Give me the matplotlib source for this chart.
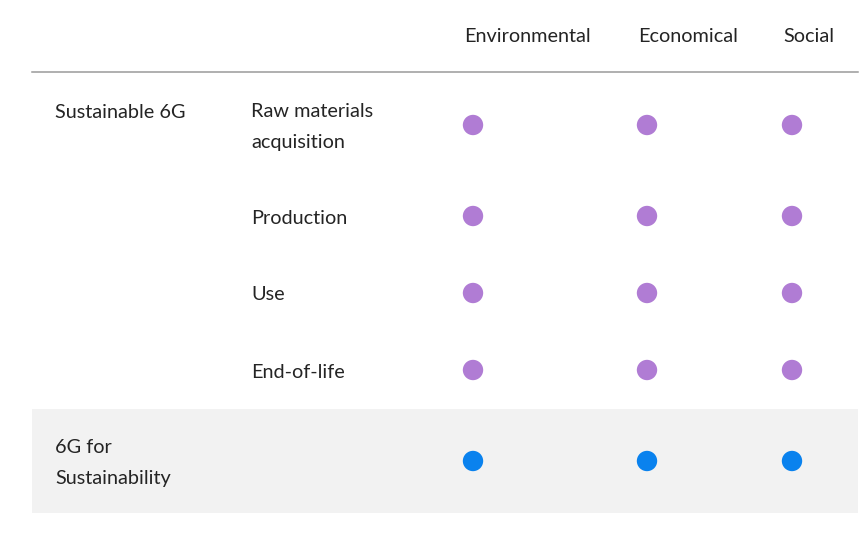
import matplotlib
matplotlib.use("Agg")
import matplotlib.pyplot as plt
from matplotlib.patches import Rectangle

# ---- data ----
dimensions = ["Environmental", "Economical", "Social"]
groups = ["Sustainable 6G", "6G for\nSustainability"]
stages = ["Raw materials\nacquisition", "Production", "Use", "End-of-life", ""]
row_group = [0, 0, 0, 0, 1]
marks = [[1, 1, 1], [1, 1, 1], [1, 1, 1], [1, 1, 1], [1, 1, 1]]

# ---- layout (pixels) ----
W, H = 864, 536
col_x = [473, 647, 792]
row_y = [125, 216, 293, 370, 461]
header_x = [464, 638, 783]
group_colors = ["#B07CD4", "#0A82EE"]
text_color = "#242424"
fs = 14.3
ls = 1.95

plt.rcParams['font.family'] = ['Lato', 'DejaVu Sans']
fig = plt.figure(figsize=(W / 100, H / 100), dpi=100)
ax = fig.add_axes([0, 0, 1, 1])
ax.set_xlim(0, W)
ax.set_ylim(H, 0)
ax.axis('off')

# grey band for second group
ax.add_patch(Rectangle((32, 409), 826, 104, facecolor="#F2F2F2", edgecolor="none", zorder=0))
# header line
ax.plot([32, 858], [72, 72], color="#9A9A9A", lw=1.1)

for x, d in zip(header_x, dimensions):
    ax.text(x, 36.5, d, fontsize=fs, color=text_color, va='center', ha='left')

# group labels
ax.text(55, 112, groups[0], fontsize=fs, color=text_color, va='center', ha='left')
ax.text(55, 463, groups[1], fontsize=fs, color=text_color, va='center', ha='left', linespacing=ls)

for i, (st, g, row) in enumerate(zip(stages, row_group, marks)):
    if st:
        ax.text(251, row_y[i] + 2, st, fontsize=fs, color=text_color, va='center', ha='left', linespacing=ls)
    xs = [col_x[j] for j, v in enumerate(row) if v]
    ax.scatter(xs, [row_y[i]] * len(xs), s=215, color=group_colors[g], edgecolors='none', zorder=3)

fig.savefig("out.png", dpi=100, facecolor="white")
